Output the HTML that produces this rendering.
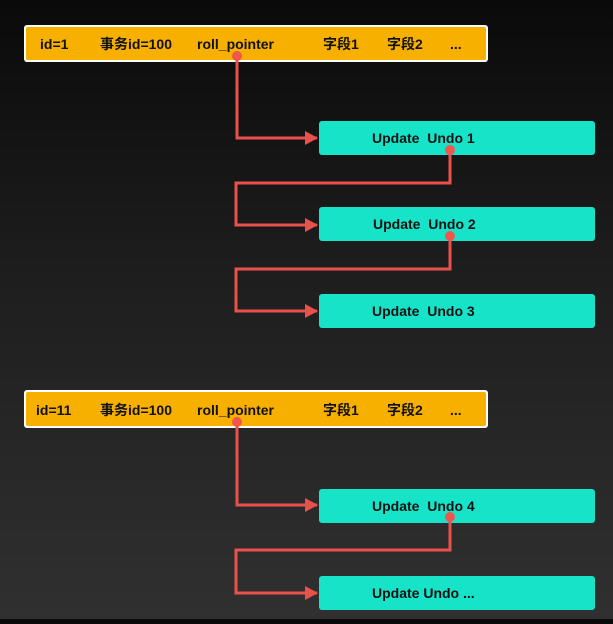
<!DOCTYPE html>
<html><head><meta charset="utf-8"><style>
html,body{margin:0;padding:0;}
body{width:613px;height:619px;overflow:hidden;background:linear-gradient(#0a0a0a,#1e1e1e 45%,#303030);}
svg text{font-family:"Liberation Sans","Noto Sans CJK SC",sans-serif;font-weight:bold;font-size:14px;fill:#111;white-space:pre;}
</style></head><body>
<svg width="613" height="619" xmlns="http://www.w3.org/2000/svg" xml:space="preserve">
<defs><marker id="a" markerWidth="14" markerHeight="14" refX="12" refY="7" orient="auto" markerUnits="userSpaceOnUse"><path d="M0,0 L13,7 L0,14 Z" fill="#e8524a"/></marker></defs>
<rect x="24" y="25" width="464" height="37" rx="3" fill="#fff"/>
<rect x="26" y="27" width="460" height="33" rx="2" fill="#f8b000"/>
<text x="40" y="49">id=1</text><text x="100" y="49">事务id=100</text><text x="197" y="49">roll_pointer</text><text x="323" y="49">字段1</text><text x="387" y="49">字段2</text><text x="450" y="49">...</text>
<rect x="24" y="390" width="464" height="38" rx="3" fill="#fff"/>
<rect x="26" y="392" width="460" height="34" rx="2" fill="#f8b000"/>
<text x="36" y="415">id=11</text><text x="100" y="415">事务id=100</text><text x="197" y="415">roll_pointer</text><text x="323" y="415">字段1</text><text x="387" y="415">字段2</text><text x="450" y="415">...</text>
<g fill="#17e3c9">
<rect x="319" y="121" width="276" height="34" rx="3"/>
<rect x="319" y="207" width="276" height="34" rx="3"/>
<rect x="319" y="294" width="276" height="34" rx="3"/>
<rect x="319" y="489" width="276" height="34" rx="3"/>
<rect x="319" y="576" width="276" height="34" rx="3"/>
</g>
<text x="372" y="143">Update  Undo 1</text>
<text x="373" y="229">Update  Undo 2</text>
<text x="372" y="316">Update  Undo 3</text>
<text x="372" y="511">Update  Undo 4</text>
<text x="372" y="598">Update Undo ...</text>
<g fill="none" stroke="#e8524a" stroke-width="3">
<path d="M237,56 V138 H317" marker-end="url(#a)"/>
<path d="M450,150 V183 H236 V225 H317" marker-end="url(#a)"/>
<path d="M450,236 V269 H236 V311 H317" marker-end="url(#a)"/>
<path d="M237,422 V505 H317" marker-end="url(#a)"/>
<path d="M450,517 V550 H236 V593 H317" marker-end="url(#a)"/>
</g>
<g fill="#f0564c">
<circle cx="237" cy="56" r="5"/><circle cx="450" cy="150" r="5"/><circle cx="450" cy="236" r="5"/><circle cx="237" cy="422" r="5"/><circle cx="450" cy="517" r="5"/>
</g>
</svg>
</body></html>
